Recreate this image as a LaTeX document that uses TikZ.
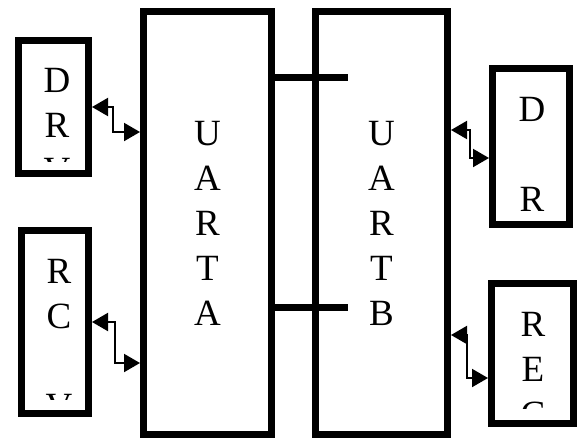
\documentclass[tikz,border=0pt]{standalone}
\usepackage{fontspec}
\setmainfont{Liberation Serif}
\usepackage{tikz}
\usetikzlibrary{arrows.meta,positioning,calc}

\newcommand{\bigletters}{\fontsize{37}{45}\selectfont}

\tikzset{
  unit/.style={draw, line width=7pt, minimum width=#1, inner sep=0pt},
  letters/.style={font=\bigletters, align=center, inner sep=0pt},
  bus/.style={line width=7pt},
  link/.style={line width=2pt, {Triangle[length=16pt,width=18pt]}-{Triangle[length=16pt,width=18pt]}}
}

\begin{document}
\begin{tikzpicture}[x=1pt, y=-1pt]
            \useasboundingbox (0,0) rectangle (581,437);

            % UART blocks
            \node[unit=128pt, minimum height=423pt, letters] (uarta) at (207.5,223) {U\\A\\R\\T\\A};
            \node[unit=132pt, minimum height=423pt, letters] (uartb) at (381.5,223) {U\\A\\R\\T\\B};

            % Bus between them
            \draw[bus] (uarta.east |- 0,77) -- (348,77);
            \draw[bus] (uarta.east |- 0,307) -- (348,307);

            % Left side devices (text cut a little above the inner edge)
            \node[unit=70pt, minimum height=133pt, path picture={
                \clip (path picture bounding box.north west) rectangle ($(path picture bounding box.south east)+(0,-12)$);
                \node[letters] (drvltext) at ($(path picture bounding box.center)+(3.5,19)$) {D\\R\\V};
              }] (drvl) at (53.5,107) {};
            \node[unit=67pt, minimum height=183pt, path picture={
                \clip (path picture bounding box.north west) rectangle ($(path picture bounding box.south east)+(0,-14)$);
                \node[letters] (rcvltext) at ($(path picture bounding box.center)+(4,17)$) {R\\C\\\mbox{}\\V};
              }] (rcvl) at (55,322) {};

            % Right side devices
            \node[unit=77pt, minimum height=156pt, path picture={
                \node[letters] (drvrtext) at ($(path picture bounding box.center)+(1,8)$) {D\\\mbox{}\\R};
              }] (drvr) at (531,146.5) {};
            \node[unit=82pt, minimum height=140pt, path picture={
                \clip (path picture bounding box.north west) rectangle ($(path picture bounding box.south east)+(0,-15)$);
                \node[letters] (recrtext) at ($(path picture bounding box.center)+(0.5,16)$) {R\\E\\C};
              }] (recr) at (532.5,353.5) {};

            % Links
            \draw[link] (drvl.east |- 0,107) -- (113,107) -- (113,132) -- (uarta.west |- 0,132);
            \draw[link] (rcvl.east |- 0,322) -- (115,322) -- (115,363) -- (uarta.west |- 0,363);
            \draw[link] (uartb.east |- 0,130) -- (470,130) -- (470,158) -- (drvr.west |- 0,158);
            \draw[link] (uartb.east |- 0,335) -- (467,335) -- (467,378) -- (recr.west |- 0,378);
        \end{tikzpicture}
\end{document}
